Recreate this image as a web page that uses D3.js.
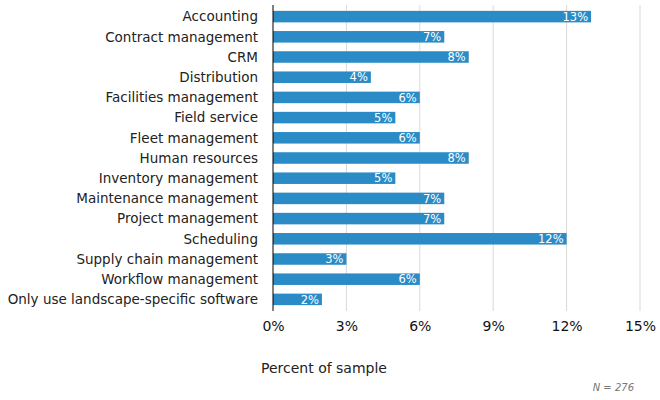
<!DOCTYPE html>
<meta charset='utf-8'>
<style>
body { margin: 0; background: #fff; }
svg text { font-family: 'DejaVu Sans', Verdana, sans-serif; }
.grid line { stroke: #d9d9d9; }
.bars rect { fill: #2a8bc6; }
</style>
<script src='https://d3js.org/d3.v7.min.js'></script>
<body>
<script>
window.onload = () => {
'use strict'

// Data
let categories = ['Accounting', 'Contract management', 'CRM', 'Distribution',
	'Facilities management', 'Field service', 'Fleet management', 'Human resources',
	'Inventory management', 'Maintenance management', 'Project management',
	'Scheduling', 'Supply chain management', 'Workflow management',
	'Only use landscape-specific software'],
	values = [13, 7, 8, 4, 6, 5, 6, 8, 5, 7, 7, 12, 3, 6, 2],
	x_ticks = [0, 3, 6, 9, 12, 15],
	x_title = 'Percent of sample',
	note = 'N = 276'

let width = 660, height = 400,
	x0 = 273, x1 = 640, y0 = 5, y1 = 311

let svg = d3.select('body').append('svg')
	.attr('width', width).attr('height', height)

let x = d3.scaleLinear([0, 15], [x0, x1]),
	y = d3.scaleBand(categories, [y0, y1]).paddingInner(0.43).paddingOuter(0.29)

// gridlines
svg.append('g').attr('class', 'grid')
	.selectAll('line').data(x_ticks.slice(1))
	.join('line')
		.attr('x1', d => x(d)).attr('x2', d => x(d))
		.attr('y1', y0).attr('y2', y1)

// bars
svg.append('g').attr('class', 'bars')
	.selectAll('rect').data(values)
	.join('rect')
		.attr('x', x(0))
		.attr('y', (d, i) => y(categories[i]))
		.attr('width', d => x(d) - x(0))
		.attr('height', y.bandwidth())

// bar labels
svg.append('g')
	.selectAll('text').data(values)
	.join('text')
		.attr('x', d => x(d) - 3)
		.attr('y', (d, i) => y(categories[i]) + y.bandwidth() / 2)
		.attr('dy', '.36em')
		.attr('text-anchor', 'end')
		.attr('fill', '#fff')
		.style('font-size', '11.5px')
		.text(d => d + '%')

// category labels
svg.append('g')
	.selectAll('text').data(categories)
	.join('text')
		.attr('x', x0 - 15)
		.attr('y', d => y(d) + y.bandwidth() / 2)
		.attr('dy', '.36em')
		.attr('text-anchor', 'end')
		.attr('fill', '#222')
		.style('font-size', '13.5px')
		.text(d => d)

// y axis line
svg.append('line')
	.attr('x1', x0).attr('x2', x0).attr('y1', y0).attr('y2', y1)
	.attr('stroke', '#000')

// x axis
let xa = svg.append('g')
	.attr('transform', `translate(0,${y1})`)
	.call(d3.axisBottom(x).tickValues(x_ticks).tickFormat(d => d + '%').tickSize(0).tickPadding(10))
xa.select('.domain').remove()
xa.selectAll('text')
	.attr('fill', '#111')
	.style('font-size', '14px')
	.style('font-family', "'DejaVu Sans', sans-serif")

svg.append('text')
	.attr('x', 261).attr('y', 373)
	.attr('fill', '#222')
	.style('font-size', '14px')
	.text(x_title)

svg.append('text')
	.attr('x', 634).attr('y', 391)
	.attr('text-anchor', 'end')
	.attr('fill', '#777')
	.style('font-size', '10px')
	.style('font-style', 'italic')
	.text(note)
}
</script>
</body>
